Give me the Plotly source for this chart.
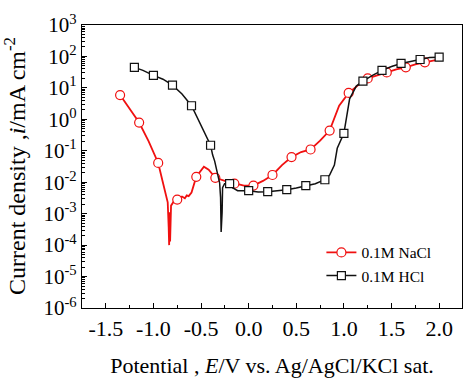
import plotly.graph_objects as go

# ---------------- data ----------------
nacl_E = [-1.35, -1.25, -1.15, -1.05, -0.95, -0.90, -0.87, -0.85, -0.84, -0.835, -0.83, -0.825,
          -0.815, -0.78, -0.75, -0.70, -0.67, -0.65, -0.63, -0.60, -0.55, -0.50, -0.47, -0.42,
          -0.35, -0.25, -0.15, -0.05, 0.05, 0.15, 0.25, 0.35, 0.45, 0.55, 0.65, 0.75, 0.85,
          0.95, 1.05, 1.15, 1.25, 1.35, 1.45, 1.55, 1.65, 1.75, 1.85, 2.0]
nacl_i = [5.9, 2.2, 0.79, 0.2, 0.041, 0.0096, 0.0038, 0.0023, 0.00037, 0.0001, 0.0011, 0.00013,
          0.0018, 0.0026, 0.0028, 0.0035, 0.0031, 0.0038, 0.0036, 0.0047, 0.0149, 0.025, 0.031, 0.025,
          0.0138, 0.011, 0.0090, 0.0078, 0.0078, 0.011, 0.017, 0.035, 0.063, 0.091, 0.11, 0.21, 0.44,
          2.7, 6.9, 12.2, 20, 25, 31, 39, 45, 56, 65, 80]
nacl_mk_E = [-1.35, -1.15, -0.95, -0.75, -0.55, -0.35, -0.15, 0.05, 0.25, 0.45, 0.65, 0.85,
             1.05, 1.25, 1.45, 1.65, 1.85]
nacl_mk_i = [5.9, 0.79, 0.041, 0.0028, 0.0149, 0.0138, 0.0090, 0.0078, 0.017, 0.063, 0.11, 0.44,
             6.9, 20, 31, 45, 65]

hcl_E = [-1.2, -1.11, -1.0, -0.9, -0.8, -0.7, -0.6, -0.515, -0.46, -0.4, -0.378, -0.357, -0.326,
         -0.305, -0.295, -0.289, -0.279, -0.274, -0.253, -0.2, -0.17, -0.116, 0.0, 0.1, 0.2, 0.3,
         0.4, 0.5, 0.6, 0.7, 0.8, 0.85, 0.9, 0.93, 1.0, 1.03, 1.06, 1.13, 1.2, 1.3, 1.4, 1.5,
         1.6, 1.7, 1.8, 1.9, 2.0]
hcl_i = [45, 36, 25, 18.9, 12.2, 6.4, 2.7, 0.79, 0.38, 0.15, 0.073, 0.047, 0.018,
         0.0096, 0.0033, 0.00026, 0.0011, 0.0067, 0.0090, 0.0090, 0.0067, 0.0054, 0.0054, 0.0049, 0.0050, 0.0053,
         0.0058, 0.0066, 0.0078, 0.0090, 0.012, 0.017, 0.035, 0.12, 0.36, 1.5, 4.5, 11.4, 16.3, 25, 36, 48,
         60, 69, 80, 92, 95]
hcl_mk_E = [-1.2, -1.0, -0.8, -0.6, -0.4, -0.2, 0.0, 0.2, 0.4, 0.6, 0.8, 1.0, 1.2, 1.4, 1.6, 1.8, 2.0]
hcl_mk_i = [45, 25, 12.2, 2.7, 0.15, 0.0090, 0.0054, 0.0050, 0.0058, 0.0078, 0.012, 0.36, 16.3, 36,
            60, 80, 95]

x_tickvals = [-1.5, -1.0, -0.5, 0.0, 0.5, 1.0, 1.5, 2.0]
x_ticktext = ["-1.5", "-1.0", "-0.5", "0.0", "0.5", "1.0", "1.5", "2.0"]
y_exponents = [-6, -5, -4, -3, -2, -1, 0, 1, 2, 3]

x_title = "Potential , <i>E</i>/V vs. Ag/AgCl/KCl sat."
y_title = "Current density ,<i>i</i>/mA cm<sup>-2</sup>"

RED = "#f01010"
BLACK = "#111111"
FONT = "Liberation Serif"

fig = go.Figure()

series = [
    ("0.1M NaCl", nacl_E, nacl_i, nacl_mk_E, nacl_mk_i, RED, "circle", 9, 1.8),
    ("0.1M HCl", hcl_E, hcl_i, hcl_mk_E, hcl_mk_i, BLACK, "square", 8, 1.5),
]
for name, E, I, mE, mI, col, sym, msz, lw in series:
    fig.add_trace(go.Scatter(x=E, y=I, mode="lines", line=dict(color=col, width=lw),
                             showlegend=False, hoverinfo="skip"))
    fig.add_trace(go.Scatter(x=mE, y=mI, mode="markers", showlegend=False,
                             marker=dict(symbol=sym, size=msz, color="white",
                                         line=dict(color=col, width=1.2))))
    fig.add_trace(go.Scatter(x=[None], y=[None], mode="lines+markers", name=name,
                             line=dict(color=col, width=lw),
                             marker=dict(symbol=sym, size=msz, color="white",
                                         line=dict(color=col, width=1.2))))

fig.update_layout(
    width=469, height=380,
    margin=dict(l=82, r=6, t=25, b=68),
    paper_bgcolor="white", plot_bgcolor="white",
    font=dict(family=FONT, color="black", size=18),
    showlegend=True,
    legend=dict(x=0.63, y=0.255, xanchor="left", yanchor="top",
                bgcolor="rgba(0,0,0,0)", font=dict(family=FONT, size=15.5),
                itemwidth=30, tracegroupgap=0),
    annotations=[dict(text=y_title, xref="paper", yref="paper", x=-0.178, y=0.503,
                      xanchor="center", yanchor="middle", textangle=-90, showarrow=False,
                      font=dict(family=FONT, size=24, color="black"))],
)
fig.update_xaxes(
    range=[-1.75, 2.24], showgrid=False, zeroline=False,
    showline=True, linecolor="black", linewidth=1.2, mirror=True,
    ticks="inside", ticklen=5, tickcolor="black",
    tickvals=x_tickvals, ticktext=x_ticktext,
    tickfont=dict(family=FONT, size=22),
    minor=dict(dtick=0.25, tick0=0, ticks="inside", ticklen=3, tickcolor="black"),
    title=dict(text=x_title, font=dict(family=FONT, size=22), standoff=18),
)
fig.update_yaxes(
    type="log", range=[-6, 3], showgrid=False, zeroline=False,
    showline=True, linecolor="black", linewidth=1.2, mirror=True,
    ticks="inside", ticklen=5, tickcolor="black",
    tickvals=[10 ** e for e in y_exponents],
    ticktext=["10<sup>%d</sup>" % e for e in y_exponents],
    tickfont=dict(family=FONT, size=21),
    minor=dict(dtick="D1", ticks="inside", ticklen=3, tickcolor="black", showgrid=False),
)

fig.write_html("out.html")
